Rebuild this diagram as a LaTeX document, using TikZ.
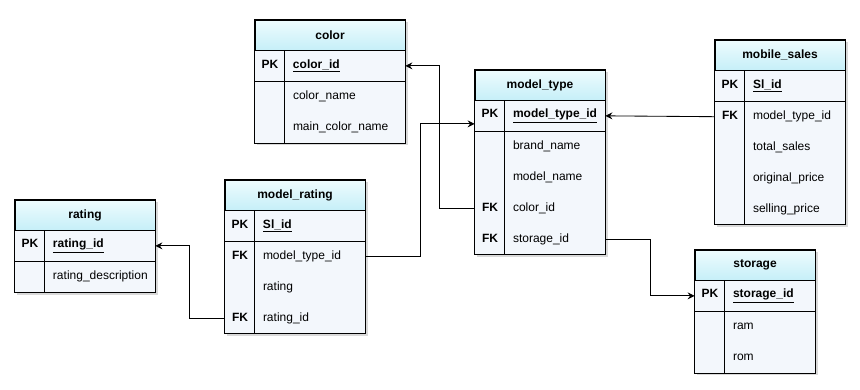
\documentclass[tikz,border=0pt]{standalone}
\usepackage{fontspec}
\setmainfont{Liberation Sans}
\usetikzlibrary{positioning,arrows.meta,backgrounds,shadows}

\definecolor{hdrtop}{HTML}{EEFCFE}
\definecolor{hdrbot}{HTML}{C6EFF8}
\definecolor{tblbody}{HTML}{F3F7FC}

% key column (PK / FK) and underlined primary key
\newcommand{\keycol}[1]{\makebox[30pt]{\bfseries #1}\hspace{8pt}}
\newcommand{\pkname}[1]{\underline{\bfseries #1}}

\tikzset{
  tblhead/.style={rectangle, minimum height=30pt, inner sep=0pt, align=center,
    font=\fontsize{12}{14}\selectfont\bfseries, top color=hdrtop,
    bottom color=hdrbot, draw},
  tblrow/.style={rectangle, minimum height=30pt, inner sep=0pt, align=left},
  tblback/.style={fill=tblbody, drop shadow={shadow xshift=2.5pt,
    shadow yshift=-2.5pt, opacity=.25, fill=black!60}},
  link/.style={-{Stealth[length=7pt,width=7pt,inset=2.5pt]}},
}

% body, shadow and grid lines of one table
\newcommand{\tblframe}[3]{%
  \begin{scope}[on background layer]
    \path[tblback] (#1.north west) rectangle (#3.south east);
  \end{scope}
  \draw (#2.south west) -- (#2.south east);
  \draw ([xshift=30pt]#2.north west) -- ([xshift=30pt]#3.south west);
  \draw (#1.north west) rectangle (#3.south east);
}

\begin{document}
\begin{tikzpicture}[x=1pt,y=-1pt,line width=0.85pt,
    font=\fontsize{12}{14}\selectfont]
  \useasboundingbox (0,0) rectangle (860,390);

  % color
  \begin{scope}[nodes={text width=150pt}]
    \node[tblhead] (color) at (330,35) {color};
    \node[tblrow, below=0pt of color] (color-id) {\keycol{PK}\pkname{color\_id}};
    \node[tblrow, below=0pt of color-id] (color-name) {\keycol{}color\_name};
    \node[tblrow, below=0pt of color-name] (color-main) {\keycol{}main\_color\_name};
  \end{scope}
  \tblframe{color}{color-id}{color-main}

  % model_type
  \begin{scope}[nodes={text width=130pt}]
    \node[tblhead] (mt) at (540,85) {model\_type};
    \node[tblrow, below=0pt of mt] (mt-id) {\keycol{PK}\pkname{model\_type\_id}};
    \node[tblrow, below=0pt of mt-id] (mt-brand) {\keycol{}brand\_name};
    \node[tblrow, below=0pt of mt-brand] (mt-model) {\keycol{}model\_name};
    \node[tblrow, below=0pt of mt-model] (mt-color) {\keycol{FK}color\_id};
    \node[tblrow, below=0pt of mt-color] (mt-storage) {\keycol{FK}storage\_id};
  \end{scope}
  \tblframe{mt}{mt-id}{mt-storage}

  % mobile_sales
  \begin{scope}[nodes={text width=130pt}]
    \node[tblhead] (ms) at (780,55) {mobile\_sales};
    \node[tblrow, below=0pt of ms] (ms-id) {\keycol{PK}\pkname{Sl\_id}};
    \node[tblrow, below=0pt of ms-id] (ms-type) {\keycol{FK}model\_type\_id};
    \node[tblrow, below=0pt of ms-type] (ms-total) {\keycol{}total\_sales};
    \node[tblrow, below=0pt of ms-total] (ms-orig) {\keycol{}original\_price};
    \node[tblrow, below=0pt of ms-orig] (ms-sell) {\keycol{}selling\_price};
  \end{scope}
  \tblframe{ms}{ms-id}{ms-sell}

  % storage
  \begin{scope}[nodes={text width=120pt}]
    \node[tblhead] (st) at (755,265) {storage};
    \node[tblrow, below=0pt of st] (st-id) {\keycol{PK}\pkname{storage\_id}};
    \node[tblrow, below=0pt of st-id] (st-ram) {\keycol{}ram};
    \node[tblrow, below=0pt of st-ram] (st-rom) {\keycol{}rom};
  \end{scope}
  \tblframe{st}{st-id}{st-rom}

  % rating
  \begin{scope}[nodes={text width=140pt}]
    \node[tblhead] (rt) at (85,215) {rating};
    \node[tblrow, below=0pt of rt] (rt-id) {\keycol{PK}\pkname{rating\_id}};
    \node[tblrow, below=0pt of rt-id] (rt-desc) {\keycol{}rating\_description};
  \end{scope}
  \tblframe{rt}{rt-id}{rt-desc}

  % model_rating
  \begin{scope}[nodes={text width=140pt}]
    \node[tblhead] (mr) at (295,195) {model\_rating};
    \node[tblrow, below=0pt of mr] (mr-id) {\keycol{PK}\pkname{Sl\_id}};
    \node[tblrow, below=0pt of mr-id] (mr-type) {\keycol{FK}model\_type\_id};
    \node[tblrow, below=0pt of mr-type] (mr-value) {\keycol{}rating};
    \node[tblrow, below=0pt of mr-value] (mr-rating) {\keycol{FK}rating\_id};
  \end{scope}
  \tblframe{mr}{mr-id}{mr-rating}

  % foreign keys
  \draw[link] (mt-color.west) -- ++(-35,0) |- (color-id.east);
  \draw[link] (mr-type.east) -- ++(55,0) |- ([yshift=-8pt]mt-id.west);
  \draw[link] (ms-type.west) -- (mt-id.east);
  \draw[link] (mt-storage.east) -- ++(45,0) |- (st-id.west);
  \draw[link] (mr-rating.west) -- ++(-35,0) |- (rt-id.east);
\end{tikzpicture}
\end{document}
